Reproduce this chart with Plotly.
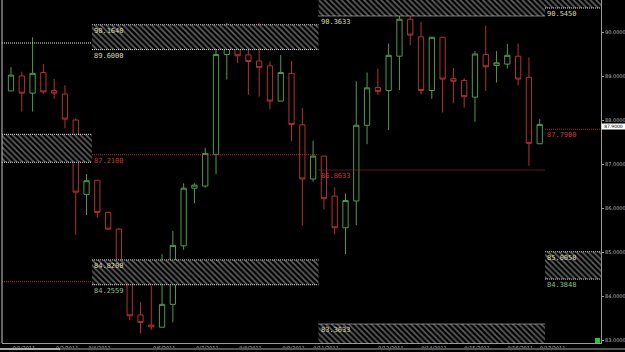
import plotly.graph_objects as go

# ---------------- data ----------------
candle_idx = list(range(50))
opens = [88.66, 89.00, 88.61, 89.08, 88.67, 88.59, 88.00, 86.31, 86.63, 85.90,
         85.52, 84.40, 83.57, 83.34, 83.29, 83.81, 85.14, 86.45, 86.50, 87.22,
         89.49, 89.89, 89.48, 89.34, 89.23, 88.43, 89.06, 87.89, 86.66, 87.18,
         86.27, 85.55, 86.16, 87.88, 88.74, 88.67, 89.45, 90.29, 89.89, 88.67,
         89.88, 88.94, 88.90, 88.52, 89.49, 89.24, 89.27, 89.45, 88.97, 87.46]
highs = [89.20, 89.10, 89.88, 89.27, 88.93, 88.79, 88.04, 86.77, 86.63, 85.92,
         85.54, 84.76, 83.86, 84.23, 84.95, 85.48, 86.56, 86.56, 87.37, 89.67,
         90.20, 89.92, 89.63, 90.20, 89.33, 89.48, 89.34, 88.27, 87.53, 87.18,
         86.47, 86.33, 88.88, 89.08, 89.17, 89.74, 90.48, 90.36, 90.23, 89.89,
         89.88, 89.18, 88.95, 89.57, 90.14, 89.57, 89.73, 89.74, 89.42, 88.02]
lows = [88.66, 88.19, 88.19, 88.59, 88.48, 87.81, 85.39, 85.84, 85.78, 85.50,
        84.36, 83.45, 83.15, 83.23, 83.29, 83.40, 85.05, 86.11, 86.46, 86.77,
        88.92, 89.29, 88.57, 88.53, 88.24, 88.43, 87.52, 85.60, 86.60, 85.97,
        85.40, 84.95, 85.61, 87.45, 88.57, 87.77, 88.68, 89.70, 88.58, 88.48,
        88.17, 88.38, 88.28, 87.96, 88.66, 88.85, 89.17, 88.79, 86.96, 87.46]
closes = [89.02, 88.61, 89.06, 88.64, 88.61, 88.02, 86.36, 86.62, 85.90, 85.52,
          84.38, 83.55, 83.40, 83.30, 83.81, 85.15, 86.45, 86.52, 87.24, 89.49,
          89.86, 89.46, 89.33, 89.19, 88.43, 89.08, 87.90, 86.66, 87.18, 86.21,
          85.55, 86.17, 87.88, 88.73, 88.65, 89.47, 90.29, 89.93, 88.67, 89.88,
          88.93, 88.88, 88.53, 89.50, 89.21, 89.30, 89.47, 88.93, 87.47, 87.90]

day_start_idx = [0, 4, 7, 13, 17, 21, 25, 28, 34, 38, 42, 46, 49]
day_labels = ["9/1/2011", "9/2/2011", "9/4/2011", "9/6/2011", "9/7/2011", "9/8/2011",
              "9/9/2011", "9/11/2011", "9/12/2011", "9/14/2011", "9/15/2011",
              "9/16/2011", "9/17/2011"]

price_ticks = [83, 84, 85, 86, 87, 88, 89, 90]
last_price = 87.90

# segment boundaries (candle index units) for the level zones
seg_bounds = [7.5, 28.5, 49.5]

# hatched zones: (segment number, low, high)
zone_seg = [0, 1, 1, 2, 2, 3, 3]
zone_low = [87.04, 89.60, 84.2559, 90.3633, 82.80, 90.545, 84.3848]
zone_high = [87.675, 90.164, 84.82, 91.20, 83.3633, 91.20, 85.005]

# single dotted level lines: (segment, price, kind)
line_seg = [0, 0, 1, 2, 3]
line_price = [89.75, 84.325, 87.21, 86.8633, 87.79]
line_kind = ["white", "red", "red", "red", "red"]

# level labels: (segment start, price, text, kind)
lab_seg = [1, 1, 1, 1, 1, 2, 2, 2, 3, 3, 3, 3]
lab_price = [90.164, 89.60, 87.21, 84.82, 84.2559, 90.3633, 86.8633, 83.3633,
             90.545, 87.79, 85.005, 84.3848]
lab_text = ["90.1640", "89.6000", "87.2100", "84.8200", "84.2559", "90.3633",
            "86.8633", "83.3633", "90.5450", "87.7900", "85.0050", "84.3848"]
lab_kind = ["khaki", "khaki", "red", "khaki", "green", "khaki", "red", "khaki",
            "khaki", "red", "khaki", "green"]

# ---------------- styling ----------------
W, H = 625, 352
PL, PR, PT, PB = 2, 601, 0, 343
X0 = (PL - 11) / 10.79
X1 = (PR - 11) / 10.79
Y_TOP = 90 + 32 / 44
Y_BOT = 90 - (PB - 32) / 44

GREEN = "#4e9a4e"
RED = "#b03232"
COLORS = {"khaki": "#d9d9a3", "red": "#c53a3a", "green": "#86c086", "white": "#e6e6e6"}

seg_x = [X0] + seg_bounds + [X1]

fig = go.Figure()

# hatched zones
for s, lo, hi in zip(zone_seg, zone_low, zone_high):
    xa, xb = seg_x[s], seg_x[s + 1]
    fig.add_trace(go.Scatter(
        x=[xa, xb, xb, xa, xa], y=[lo, lo, hi, hi, lo],
        mode="lines", fill="toself", line=dict(width=0),
        fillcolor="rgba(0,0,0,0)",
        fillpattern=dict(shape="\\", fgcolor="#c4c4c4", bgcolor="#000000",
                         size=4, solidity=0.4),
        hoverinfo="skip", showlegend=False))
    for p in (lo, hi):
        if Y_BOT < p < Y_TOP:
            fig.add_shape(type="line", xref="x", yref="y", x0=xa, x1=xb, y0=p, y1=p,
                          line=dict(color=COLORS["white"], width=1, dash="1px,1px"))

for s, p, k in zip(line_seg, line_price, line_kind):
    fig.add_shape(type="line", xref="x", yref="y", x0=seg_x[s], x1=seg_x[s + 1],
                  y0=p, y1=p, line=dict(color=COLORS[k] if k == "white" else RED,
                                         width=1, dash="1px,1px"))

fig.add_trace(go.Candlestick(
    x=candle_idx, open=opens, high=highs, low=lows, close=closes,
    increasing=dict(line=dict(color=GREEN, width=1), fillcolor="#000000"),
    decreasing=dict(line=dict(color=RED, width=1), fillcolor="#000000"),
    whiskerwidth=0, hoverinfo="skip", showlegend=False))

for s, p, t, k in zip(lab_seg, lab_price, lab_text, lab_kind):
    fig.add_annotation(x=seg_x[s], y=p, xref="x", yref="y", text=t, showarrow=False,
                       xanchor="left", yanchor="top", xshift=0, yshift=0,
                       font=dict(family="DejaVu Sans Mono", size=7, color=COLORS[k]))

# left border line
fig.add_shape(type="line", xref="paper", yref="paper", x0=0, x1=0, y0=0, y1=1,
              line=dict(color="#c8c8c8", width=1))

# current price box
fig.add_annotation(x=1, y=last_price, xref="paper", yref="y", text=f"{last_price:.4f}",
                   showarrow=False, xanchor="left", yanchor="middle", bgcolor="#ffffff",
                   font=dict(family="DejaVu Sans", size=4.5, color="#000000"),
                   borderpad=0, width=23, yshift=-2)

# small green marker at bottom right
fig.add_shape(type="rect", xref="paper", yref="paper",
              x0=(595 - PL) / (PR - PL), x1=(600 - PL) / (PR - PL),
              y0=0, y1=5 / (PB - PT), fillcolor="#22cc22", line=dict(width=0))

# bottom scroll strip
fig.add_shape(type="line", xref="paper", yref="paper", x0=-PL / (PR - PL), x1=(W - PL) / (PR - PL),
              y0=-6 / (PB - PT), y1=-6 / (PB - PT), line=dict(color="#555555", width=2))
fig.add_shape(type="line", xref="paper", yref="paper", x0=-PL / (PR - PL), x1=(60 - PL) / (PR - PL),
              y0=-6 / (PB - PT), y1=-6 / (PB - PT), line=dict(color="#aaaaaa", width=2))

fig.update_layout(
    width=W, height=H,
    margin=dict(l=PL, r=W - PR, t=PT, b=H - PB),
    paper_bgcolor="#000000", plot_bgcolor="#000000",
    showlegend=False,
    xaxis=dict(range=[X0, X1], rangeslider=dict(visible=False), showgrid=False,
               zeroline=False, showline=True, linecolor="#9a9a9a", linewidth=1,
               tickmode="array", tickvals=[i + 1.2 for i in day_start_idx],
               ticktext=day_labels, ticks="",
               tickfont=dict(family="DejaVu Sans", size=5, color="#bbbbbb")),
    yaxis=dict(range=[Y_BOT, Y_TOP], side="right", showgrid=False, zeroline=False,
               showline=True, linecolor="#9a9a9a", linewidth=1,
               tickmode="array", tickvals=price_ticks,
               ticktext=[f"{v:.4f}" for v in price_ticks], ticks="outside", ticklen=2,
               tickcolor="#9a9a9a",
               tickfont=dict(family="DejaVu Sans", size=5, color="#bbbbbb")),
)

fig.write_html("out.html")
